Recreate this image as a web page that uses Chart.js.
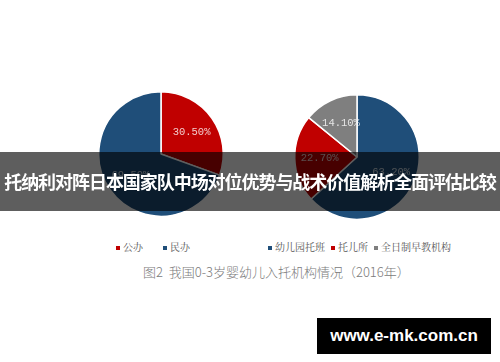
<!DOCTYPE html>
<html>
<head>
<meta charset="utf-8">
<script src="https://cdn.jsdelivr.net/npm/chart.js@4"></script>
<style>
  body { margin: 0; background: #fff; width: 500px; height: 362px; overflow: hidden; position: relative; font-family: "Noto Sans CJK SC", sans-serif; }
  canvas { position: absolute; }
  #left { left: 96px; top: 89px; }
  #right { left: 292px; top: 92px; }
  .legend { position: absolute; top: 239px; font-size: 10px; color: #555; white-space: nowrap; font-family: "Noto Serif CJK SC", "Noto Sans CJK SC", serif; }
  .legend span.sq { display: inline-block; width: 4px; height: 4px; margin: 0 3px 1px 0; vertical-align: middle; }
  .legend span.item { margin-right: 6px; }
  #caption { position: absolute; left: 143px; top: 262px; font-size: 13px; color: #7a7a7a; font-weight: 300; white-space: nowrap; }
  #banner { position: absolute; left: 0; top: 152px; width: 500px; height: 59px; background: rgba(0,0,0,0.63); }
  #banner span { position: absolute; left: 250px; top: 29px; transform: translate(-50%, -50%); color: #fff; font-weight: bold; font-size: 18px; white-space: nowrap; letter-spacing: -1.05px; }
  #mark { position: absolute; left: 317px; top: 318px; width: 174px; height: 36px; background: #000; color: #fff; font-family: "Liberation Sans", Arial, sans-serif; font-weight: bold; font-size: 17px; line-height: 36px; text-align: center; }
</style>
</head>
<body>
<canvas id="left" width="130" height="130"></canvas>
<canvas id="right" width="130" height="130"></canvas>
<div class="legend" style="left:116px"><span class="item"><span class="sq" style="background:#c00000"></span>公办</span><span class="item" style="margin-left:14px"><span class="sq" style="background:#1f4e79"></span>民办</span></div>
<div class="legend" style="left:268px"><span class="item"><span class="sq" style="background:#1f4e79"></span>幼儿园托班</span><span class="item"><span class="sq" style="background:#c00000"></span>托儿所</span><span class="item"><span class="sq" style="background:#7f7f7f"></span>全日制早教机构</span></div>
<div id="caption">图2&nbsp;&nbsp;我国0-3岁婴幼儿入托机构情况（2016年）</div>
<div id="banner"><span>托纳利对阵日本国家队中场对位优势与战术价值解析全面评估比较</span></div>
<div id="mark">www.e-mk.com.cn</div>
<script>
var leftLabels = ["公办", "民办"];
var leftValues = [30.5, 69.5];
var leftColors = ["#c00000", "#1f4e79"];

var rightLabels = ["幼儿园托班", "托儿所", "全日制早教机构"];
var rightValues = [63.2, 22.7, 14.1];
var rightColors = ["#1f4e79", "#c00000", "#7f7f7f"];

var pctLabels = {
    id: "pctLabels",
    afterDatasetsDraw: function (chart) {
        var ctx = chart.ctx;
        var meta = chart.getDatasetMeta(0);
        var values = chart.data.datasets[0].data;
        ctx.save();
        ctx.font = "10.5px 'Liberation Mono', monospace";
        ctx.fillStyle = "rgba(255,255,255,0.8)";
        ctx.textAlign = "center";
        ctx.textBaseline = "middle";
        meta.data.forEach(function (arc, i) {
            var p = arc.getProps(["x", "y", "startAngle", "endAngle", "outerRadius"], true);
            var mid = (p.startAngle + p.endAngle) / 2;
            var r = p.outerRadius * 0.6;
            ctx.fillText(values[i].toFixed(2) + "%", p.x + Math.cos(mid) * r, p.y + Math.sin(mid) * r);
        });
        ctx.restore();
    }
};

function getPieConfig(labels, values, colors) {
    return {
        type: "pie",
        data: {
            labels: labels,
            datasets: [{
                data: values,
                backgroundColor: colors,
                borderColor: "#fff",
                borderWidth: 1.5
            }]
        },
        options: {
            responsive: false,
            animation: false,
            layout: { padding: 2 },
            plugins: { legend: { display: false }, tooltip: { enabled: false } }
        },
        plugins: [pctLabels]
    };
}

new Chart(document.getElementById("left").getContext("2d"), getPieConfig(leftLabels, leftValues, leftColors));
new Chart(document.getElementById("right").getContext("2d"), getPieConfig(rightLabels, rightValues, rightColors));
</script>
</body>
</html>
